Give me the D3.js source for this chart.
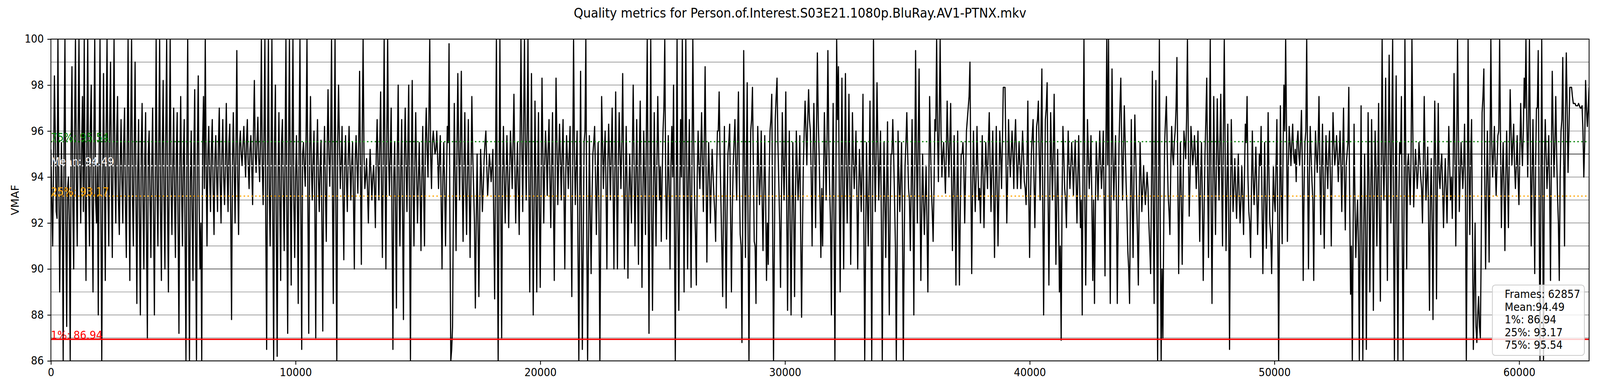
<!DOCTYPE html>
<html>
<head>
<meta charset="utf-8">
<script src="https://cdn.jsdelivr.net/npm/d3@7"></script>
<style>
    html, body { margin: 0; padding: 0; width: 100%; height: 100%; overflow: hidden; background: #ffffff; }
    #chart { width: 100%; height: 100%; }
    #chart svg { display: block; }
    text { font-family: "DejaVu Sans", sans-serif; }
</style>
</head>
<body>
<div id="chart"></div>
<script>
// --- data ---
const chartTitle = "Quality metrics for Person.of.Interest.S03E21.1080p.BluRay.AV1-PTNX.mkv";
const yLabel = "VMAF";
const totalFrames = 62857;
const xTicks = [0, 10000, 20000, 30000, 40000, 50000, 60000];
const yTicks = [86, 88, 90, 92, 94, 96, 98, 100];
const statNames = ["1%", "25%", "Mean", "75%"];
const statValues = [86.94, 93.17, 94.49, 95.54];

// VMAF samples taken at an even stride over the whole file (peaks and dips)
const vmafA = [
    // 0 - 7900
    95.2, 91.0, 98.4, 92.5, 100, 89.0, 95.5, 86.0, 100, 87.5,
    94.0, 86.0, 98.8, 90.0, 100, 91.0, 100, 92.0, 97.5, 100,
    89.5, 100, 91.0, 98.0, 89.0, 100, 92.0, 88.0, 100, 86.0,
    98.5, 89.5, 100, 91.0, 99.0, 90.5, 100, 92.0, 97.5, 91.5,
    96.5, 92.0, 97.0, 90.5, 100, 89.5, 100, 91.0, 99.0, 88.5,
    96.5, 88.0, 97.2, 90.0, 96.8, 87.0, 96.0, 90.5, 97.0, 88.0,
    100, 91.0, 100, 89.5, 98.2, 90.0, 100, 89.0, 100, 91.5,
    97.0, 90.5, 96.8, 87.2, 97.5, 91.0, 96.5, 86.0, 100, 86.0,
    96.0, 89.5, 97.8, 86.0, 98.4, 90.0, 86.0, 97.5, 100, 91.0,
    96.2, 92.5, 96.5, 91.5, 95.8, 92.5, 97.0, 92.0, 96.5, 92.8,
    97.2, 92.5, 96.3, 87.8, 96.8, 92.0, 99.5, 91.5, 96.0, 94.5,
    // 7900 - 15800
    96.2, 94.0, 96.5, 93.5, 95.8, 92.8, 98.2, 94.2, 96.6, 93.8,
    100, 92.8, 100, 86.5, 100, 91.0, 100, 86.0, 98.0, 86.2,
    96.8, 89.5, 96.5, 90.8, 100, 87.2, 100, 89.3, 100, 90.5,
    95.8, 88.5, 100, 86.5, 95.5, 93.6, 100, 87.2, 97.5, 93.0,
    96.0, 87.0, 96.5, 92.5, 95.6, 87.3, 96.2, 91.2, 97.8, 93.6,
    100, 88.5, 100, 86.0, 98.0, 93.5, 96.2, 90.4, 95.8, 92.5,
    96.2, 93.0, 95.5, 90.0, 95.8, 93.3, 98.6, 90.2, 100, 93.5,
    94.8, 92.0, 95.2, 93.0, 94.5, 91.8, 96.5, 93.0, 97.7, 90.5,
    100, 90.0, 100, 93.2, 97.0, 86.5, 95.5, 88.3, 98.0, 91.0,
    96.5, 87.8, 97.0, 92.5, 98.0, 86.0, 98.2, 91.0, 96.8, 92.0,
    95.5, 90.8, 96.2, 91.0, 97.0, 94.0, 100, 93.5, 96.0, 95.0,
    // 15800 - 23600
    96.0, 93.5, 95.8, 90.0, 95.5, 91.0, 96.2, 99.8, 86.0, 87.5,
    97.2, 90.8, 98.5, 93.0, 98.6, 91.2, 96.8, 91.5, 96.5, 90.5,
    97.5, 93.5, 88.3, 95.0, 88.8, 95.2, 92.5, 94.8, 96.0, 93.2,
    95.0, 93.8, 95.2, 88.7, 100, 86.0, 100, 87.0, 96.2, 92.0,
    95.8, 91.8, 96.0, 93.5, 97.6, 92.0, 95.5, 91.5, 100, 92.5,
    100, 93.0, 100, 89.0, 98.5, 88.0, 97.3, 89.0, 96.8, 89.2,
    98.3, 92.0, 96.0, 93.2, 96.5, 91.8, 96.8, 89.5, 98.3, 92.8,
    96.3, 93.0, 96.5, 90.0, 95.8, 93.5, 96.2, 88.8, 100, 92.8,
    96.0, 86.0, 98.6, 86.5, 95.5, 100, 86.0, 95.8, 89.8, 95.0,
    96.2, 91.5, 95.5, 86.0, 97.5, 93.5, 96.0, 90.0, 96.3, 93.0,
    97.0, 90.0, 97.7, 90.0, 96.8, 93.5, 98.5, 90.0, 96.2, 89.6,
    // 23600 - 31500
    95.0, 92.0, 98.0, 91.0, 96.5, 90.2, 97.3, 89.2, 96.0, 91.5,
    100, 87.2, 100, 88.2, 96.8, 91.0, 97.5, 93.0, 91.2, 96.0,
    100, 91.3, 95.8, 90.0, 96.2, 98.0, 86.0, 100, 88.2, 96.5,
    100, 89.0, 100, 90.0, 96.5, 89.2, 100, 93.0, 89.3, 96.0,
    93.5, 96.8, 92.5, 98.8, 90.3, 95.5, 92.0, 95.2, 93.2, 91.2,
    96.0, 97.7, 93.0, 88.8, 96.2, 88.3, 95.0, 96.3, 89.0, 94.5,
    96.5, 93.0, 97.7, 91.5, 86.8, 99.5, 90.5, 98.1, 86.0, 96.0,
    97.9, 91.2, 88.5, 96.2, 92.8, 96.0, 90.8, 95.8, 89.5, 90.2,
    96.0, 97.6, 86.0, 96.5, 98.3, 93.8, 89.2, 96.8, 93.0, 97.7,
    88.2, 96.0, 88.0, 95.5, 88.8, 96.0, 93.0, 95.8, 87.9, 94.5,
    97.3, 94.5, 97.8, 96.0, 91.0, 97.2, 91.8, 99.4, 95.0, 90.5,
    // 31500 - 39400
    91.0, 96.8, 93.0, 99.5, 93.5, 88.0, 97.2, 86.0, 100, 98.8,
    89.0, 98.3, 90.0, 98.5, 92.0, 97.6, 90.2, 96.8, 93.5, 96.0,
    90.0, 95.2, 92.5, 97.6, 86.0, 95.5, 91.0, 97.3, 86.0, 100,
    92.5, 98.1, 93.0, 96.0, 86.0, 95.5, 90.5, 96.4, 88.0, 95.0,
    96.5, 93.0, 86.0, 96.0, 92.5, 95.5, 86.0, 94.5, 96.8, 93.5,
    90.8, 96.5, 88.0, 99.5, 92.0, 98.7, 89.5, 95.0, 91.5, 94.5,
    89.0, 97.5, 93.5, 91.2, 96.5, 100, 93.8, 100, 94.0, 95.5,
    93.3, 97.3, 94.0, 97.2, 90.8, 95.8, 89.3, 96.0, 89.3, 95.0,
    95.5, 92.0, 96.0, 97.0, 99.0, 89.8, 96.0, 92.5, 96.2, 93.0,
    92.0, 95.8, 91.8, 95.5, 93.5, 96.8, 92.5, 96.0, 90.5, 96.2,
    91.0, 96.0, 93.5, 97.9, 97.9, 92.0, 96.5, 94.0, 96.0, 93.5,
    // 39400 - 47300
    96.5, 93.5, 95.5, 93.5, 96.0, 93.8, 92.8, 97.3, 90.5, 95.0,
    96.5, 91.8, 96.2, 97.3, 93.0, 98.7, 88.0, 96.5, 98.1, 89.3,
    96.8, 93.0, 97.6, 90.2, 95.2, 89.0, 86.9, 96.2, 93.5, 91.8,
    96.0, 93.5, 95.5, 93.2, 95.6, 92.0, 95.8, 91.8, 88.0, 100,
    89.3, 96.5, 93.5, 95.8, 89.5, 88.5, 95.5, 93.0, 96.0, 93.5,
    96.0, 89.7, 100, 100, 88.5, 98.7, 93.0, 95.8, 88.5, 95.5,
    98.3, 93.0, 97.1, 93.8, 90.8, 88.5, 96.5, 90.5, 96.7, 93.2,
    89.3, 95.5, 92.5, 94.5, 92.8, 94.2, 92.0, 89.8, 98.6, 88.5,
    98.2, 86.0, 100, 86.0, 87.0, 95.5, 97.5, 93.2, 91.5, 96.2,
    94.5, 96.0, 99.2, 89.8, 95.5, 90.2, 96.0, 94.8, 100, 92.3,
    96.2, 94.5, 95.8, 93.5, 96.0, 91.2, 95.5, 89.5, 95.0, 98.3,
    // 47300 - 55100
    90.5, 100, 88.5, 97.5, 91.5, 97.4, 93.0, 97.6, 91.0, 100,
    90.8, 96.3, 86.5, 96.5, 92.5, 94.8, 92.2, 95.0, 92.0, 94.5,
    91.5, 96.3, 97.5, 92.5, 90.5, 96.0, 92.8, 95.3, 91.5, 95.0,
    96.2, 89.8, 95.5, 90.9, 96.8, 92.0, 89.8, 94.5, 92.5, 96.5,
    86.0, 97.1, 91.1, 98.0, 100, 91.2, 96.2, 94.5, 96.3, 94.6,
    93.8, 96.0, 94.5, 96.9, 89.5, 95.5, 100, 90.0, 96.2, 93.8,
    89.5, 96.0, 94.2, 97.5, 91.5, 96.3, 90.9, 95.8, 93.5, 96.0,
    91.0, 96.8, 94.5, 95.8, 93.8, 96.0, 92.5, 97.0, 91.7, 95.0,
    97.9, 88.9, 86.0, 96.3, 90.5, 93.0, 86.0, 97.1, 86.0, 95.0,
    86.5, 96.8, 89.0, 96.5, 88.2, 96.0, 91.0, 97.2, 88.6, 100,
    93.0, 98.3, 89.5, 99.3, 92.0, 100, 86.0, 98.4, 86.0, 95.5,
    // 55100 - 62857
    97.5, 86.0, 100, 90.0, 95.0, 92.8, 100, 92.7, 95.2, 93.5,
    95.5, 94.0, 92.0, 97.5, 93.0, 95.3, 88.2, 94.8, 87.8, 97.3,
    88.7, 97.2, 93.5, 95.0, 91.8, 94.8, 92.0, 96.2, 93.0, 92.2,
    98.5, 91.0, 100, 92.5, 95.5, 93.5, 96.3, 86.0, 100, 91.5,
    96.5, 86.5, 92.0, 86.8, 88.8, 87.0, 96.8, 98.7, 90.0, 96.0,
    90.3, 100, 94.0, 96.2, 93.2, 95.8, 100, 91.8, 95.5, 90.8,
    96.0, 91.8, 97.8, 94.5, 96.3, 93.5, 95.8, 92.8, 97.2, 94.5,
    98.3, 100, 94.0, 100, 91.0, 96.5, 89.8, 97.0, 99.5, 86.0,
    100, 86.0, 96.5, 93.5, 95.8, 89.5, 98.6, 94.0, 97.5, 93.2,
    89.5, 96.0, 99.2, 91.0, 99.4, 94.2, 97.9, 97.9, 97.2, 97.2,
    97.1, 97.2, 97.0, 97.1, 94.0, 98.2, 96.2, 97.9
];

// VMAF samples half a stride later (the dense middle band between the spikes)
const vmafB = [
    // 0 - 7900
    93.0, 94.5, 95.8, 92.2, 94.0, 92.5, 93.0, 95.5, 92.0, 93.5,
    92.0, 95.5, 92.8, 96.0, 94.0, 95.8, 94.5, 95.2, 92.5, 93.2,
    95.6, 93.5, 96.2, 92.8, 95.8, 93.0, 94.6, 95.0, 92.5, 93.5,
    94.0, 96.0, 93.5, 96.2, 93.8, 95.5, 94.2, 95.8, 93.0, 94.5,
    93.8, 95.5, 92.8, 95.0, 93.6, 96.0, 93.2, 95.2, 93.0, 94.2,
    92.0, 95.2, 93.0, 94.8, 91.5, 95.0, 93.2, 94.5, 92.5, 94.0,
    93.5, 95.5, 92.5, 95.2, 93.0, 95.8, 92.8, 95.0, 93.6, 94.5,
    93.0, 95.0, 92.0, 94.5, 93.5, 94.8, 91.5, 95.0, 92.0, 93.8,
    92.5, 95.0, 91.5, 95.2, 93.0, 92.0, 95.5, 93.5, 94.5, 95.0,
    94.0, 95.2, 93.5, 94.8, 94.0, 95.4, 93.8, 95.0, 94.0, 94.6,
    94.2, 95.5, 92.5, 94.5, 94.5, 95.2, 94.0, 95.3, 95.0, 95.4,
    // 7900 - 15800
    95.0, 95.5, 94.5, 95.2, 94.5, 96.0, 95.0, 95.5, 94.8, 95.5,
    94.5, 95.8, 92.0, 95.0, 93.5, 94.8, 92.5, 95.5, 92.0, 94.0,
    93.0, 95.5, 93.5, 95.0, 92.5, 95.2, 93.5, 95.5, 93.0, 94.0,
    93.2, 95.5, 92.5, 95.0, 94.5, 95.8, 93.0, 95.0, 94.5, 94.8,
    92.5, 94.8, 94.0, 94.5, 92.0, 94.5, 93.5, 95.0, 95.0, 95.5,
    93.5, 95.0, 92.0, 95.5, 95.5, 94.6, 93.2, 94.5, 94.0, 94.8,
    94.5, 94.6, 93.0, 94.8, 94.5, 95.5, 94.0, 95.8, 95.0, 94.0,
    93.5, 94.0, 94.2, 94.0, 93.5, 95.0, 94.5, 95.5, 93.5, 95.0,
    94.5, 95.5, 95.0, 95.0, 92.0, 94.0, 92.5, 95.0, 93.5, 94.5,
    92.5, 94.8, 94.5, 95.2, 92.0, 94.5, 93.5, 94.6, 94.2, 93.8,
    93.5, 94.0, 93.5, 95.5, 95.2, 96.5, 95.0, 95.5, 95.5, 95.2,
    // 15800 - 23600
    94.8, 94.8, 93.0, 94.0, 93.5, 93.8, 95.5, 92.0, 86.5, 93.0,
    94.0, 95.0, 95.2, 95.5, 94.0, 94.5, 93.5, 94.2, 93.5, 94.0,
    95.0, 92.0, 92.0, 92.0, 92.5, 94.0, 93.5, 95.5, 94.5, 94.0,
    94.5, 94.5, 92.0, 94.5, 92.5, 93.5, 93.0, 94.0, 94.0, 94.0,
    94.0, 94.0, 95.0, 95.5, 94.5, 94.0, 93.5, 95.5, 95.5, 96.0,
    95.5, 96.0, 94.0, 94.0, 93.0, 93.0, 93.5, 94.0, 92.5, 94.0,
    95.0, 94.5, 95.0, 95.2, 94.0, 94.5, 93.0, 94.0, 95.5, 94.8,
    94.8, 95.0, 93.5, 94.0, 94.8, 95.0, 92.5, 94.5, 95.0, 94.5,
    91.0, 92.5, 92.0, 91.0, 96.0, 92.0, 91.0, 92.5, 93.0, 95.5,
    94.0, 94.0, 92.0, 92.0, 95.5, 95.0, 93.5, 94.5, 94.8, 95.0,
    94.0, 94.0, 94.0, 94.5, 95.0, 95.5, 94.5, 93.5, 93.5, 93.0,
    // 23600 - 31500
    93.5, 95.0, 94.5, 94.0, 93.5, 95.0, 93.5, 93.0, 94.0, 96.0,
    93.0, 94.0, 92.5, 93.0, 94.0, 94.5, 95.0, 94.5, 94.0, 97.0,
    94.0, 93.5, 93.5, 94.5, 94.0, 92.0, 93.0, 92.0, 93.0, 94.0,
    94.5, 95.0, 94.5, 94.0, 93.0, 94.5, 95.5, 91.5, 94.0, 94.5,
    95.0, 94.5, 95.5, 94.5, 93.5, 94.0, 93.8, 94.2, 92.5, 94.0,
    96.0, 95.0, 91.0, 93.0, 92.0, 92.5, 95.5, 92.5, 92.5, 95.5,
    94.5, 95.5, 94.0, 91.0, 93.0, 94.5, 94.5, 91.5, 92.0, 96.5,
    94.5, 91.0, 93.0, 94.5, 94.0, 93.0, 93.5, 93.0, 92.0, 94.0,
    96.5, 92.0, 91.0, 97.5, 95.5, 92.0, 93.0, 95.0, 95.0, 93.0,
    92.5, 92.0, 92.0, 92.5, 93.0, 94.5, 94.0, 91.5, 91.5, 96.0,
    96.0, 96.5, 96.5, 94.0, 95.0, 95.0, 96.0, 96.5, 93.0, 93.5,
    // 31500 - 39400
    94.0, 95.0, 95.5, 95.5, 92.0, 93.5, 92.0, 93.0, 96.5, 93.5,
    94.0, 93.5, 94.5, 94.5, 94.5, 94.0, 93.5, 94.8, 94.5, 93.5,
    93.0, 94.0, 94.5, 92.0, 91.0, 93.0, 94.0, 92.0, 93.0, 95.0,
    95.0, 95.5, 94.5, 92.0, 92.0, 93.0, 93.5, 92.0, 92.5, 95.0,
    95.0, 91.0, 91.0, 94.0, 94.0, 92.0, 91.0, 95.5, 95.0, 93.0,
    93.5, 93.0, 94.0, 95.0, 95.5, 93.5, 92.5, 93.0, 93.0, 92.0,
    93.0, 95.5, 92.5, 93.5, 96.0, 96.0, 96.5, 96.0, 95.0, 94.5,
    95.0, 95.5, 95.5, 94.0, 93.5, 93.0, 93.0, 92.5, 92.5, 95.0,
    94.5, 94.0, 96.5, 97.5, 94.0, 93.5, 94.0, 94.0, 94.5, 93.5,
    94.0, 94.0, 94.0, 94.5, 95.5, 94.5, 94.5, 93.5, 93.5, 93.5,
    93.5, 95.0, 95.5, 97.9, 95.0, 94.0, 95.0, 95.0, 95.0, 95.5,
    // 39400 - 47300
    95.0, 94.5, 94.5, 94.8, 95.0, 93.5, 94.5, 93.5, 93.0, 95.8,
    94.0, 94.0, 96.5, 95.0, 96.0, 93.0, 93.0, 97.0, 93.5, 93.0,
    95.0, 95.0, 94.0, 93.0, 92.5, 91.0, 93.0, 95.0, 93.0, 94.0,
    94.5, 94.5, 94.5, 94.5, 94.0, 94.0, 93.8, 93.0, 95.0, 93.0,
    93.0, 95.0, 94.5, 93.0, 93.0, 92.5, 94.5, 94.5, 94.5, 94.5,
    93.0, 95.0, 94.5, 93.0, 94.0, 95.0, 94.5, 93.0, 92.0, 97.0,
    95.5, 95.0, 95.5, 92.5, 90.0, 93.0, 93.0, 94.0, 95.0, 91.5,
    93.0, 94.0, 93.5, 93.5, 93.5, 93.5, 91.0, 93.5, 93.0, 95.0,
    92.0, 94.0, 92.0, 90.0, 92.0, 96.5, 95.0, 92.5, 94.5, 95.0,
    95.5, 97.0, 94.0, 93.0, 93.0, 93.5, 95.5, 96.5, 95.5, 94.0,
    95.5, 95.0, 95.0, 94.5, 93.5, 94.0, 93.0, 92.5, 96.5, 94.0,
    // 47300 - 55100
    95.0, 93.0, 93.5, 94.0, 94.5, 95.0, 95.5, 94.0, 96.0, 95.0,
    93.5, 92.5, 92.5, 94.5, 93.5, 93.5, 93.5, 93.2, 93.0, 93.0,
    94.0, 95.5, 94.0, 92.0, 93.5, 94.0, 94.0, 93.5, 93.0, 94.5,
    93.0, 92.5, 93.0, 93.5, 94.0, 91.5, 92.0, 93.0, 94.5, 92.0,
    92.0, 93.5, 95.0, 96.0, 96.0, 94.5, 95.5, 95.5, 95.0, 95.2,
    95.5, 95.0, 95.5, 94.5, 93.5, 96.0, 94.5, 94.0, 95.0, 93.0,
    94.0, 95.0, 95.5, 94.5, 94.5, 93.5, 94.0, 94.5, 95.0, 94.0,
    94.5, 95.5, 95.0, 95.0, 94.8, 94.5, 95.0, 94.0, 94.5, 95.5,
    93.0, 91.0, 92.0, 93.0, 92.0, 91.0, 92.0, 91.0, 91.5, 92.0,
    92.0, 94.0, 93.0, 93.5, 93.0, 94.5, 94.0, 92.0, 94.5, 95.0,
    95.0, 93.5, 95.0, 95.5, 96.0, 92.0, 93.5, 91.0, 93.0, 95.0,
    // 55100 - 62857
    91.0, 93.0, 94.5, 94.5, 94.0, 95.0, 96.0, 94.0, 94.5, 94.2,
    94.8, 93.5, 94.5, 94.8, 94.0, 92.0, 93.0, 92.0, 94.0, 94.5,
    94.0, 94.0, 94.5, 93.5, 93.5, 93.5, 94.0, 94.5, 94.0, 94.5,
    95.0, 95.0, 96.0, 94.0, 94.5, 94.5, 93.5, 92.0, 94.5, 95.0,
    92.0, 89.0, 87.5, 88.0, 87.5, 91.0, 97.5, 94.0, 93.5, 93.5,
    95.0, 95.5, 95.0, 94.5, 94.5, 96.0, 95.5, 94.0, 93.5, 94.0,
    94.0, 95.0, 96.0, 95.5, 94.5, 94.5, 94.0, 95.0, 95.5, 96.0,
    97.0, 96.5, 96.5, 95.5, 94.0, 93.5, 94.5, 97.0, 93.0, 93.0,
    93.0, 94.5, 95.0, 94.5, 93.5, 95.0, 96.0, 95.5, 95.0, 92.0,
    94.0, 96.5, 95.0, 96.5, 97.0, 96.0, 97.9, 97.5, 97.2, 97.1,
    97.1, 97.1, 97.0, 96.0, 95.5, 97.0, 97.0
];


class VmafChart {
    constructor(parentElement, peaks, middles) {
        this.parentElement = parentElement;
        this.peaks = peaks;
        this.middles = middles;
        this.initVis();
    }

    initVis() {
        let vis = this;
        vis.fullWidth = 4400;
        vis.fullHeight = 1000;
        vis.margin = {top: 100, right: 30, bottom: 77, left: 140};
        vis.width = vis.fullWidth - vis.margin.left - vis.margin.right;
        vis.height = vis.fullHeight - vis.margin.top - vis.margin.bottom;

        // viewBox so the whole figure fits whatever the window really is
        vis.root = d3.select("#" + vis.parentElement)
            .append("svg")
            .attr("viewBox", "0 0 " + vis.fullWidth + " " + vis.fullHeight)
            .attr("preserveAspectRatio", "none")
            .style("width", "100vw")
            .style("height", "100vh");

        vis.svg = vis.root.append("g")
            .attr("transform", "translate(" + vis.margin.left + "," + vis.margin.top + ")");

        vis.svg.append("clipPath")
            .attr("id", "plot-clip")
            .append("rect")
            .attr("width", vis.width)
            .attr("height", vis.height);

        vis.x = d3.scaleLinear()
            .domain([0, totalFrames])
            .range([0, vis.width]);

        vis.y = d3.scaleLinear()
            .domain([d3.min(yTicks), d3.max(yTicks)])
            .range([vis.height, 0]);

        vis.xAxis = d3.axisBottom(vis.x)
            .tickValues(xTicks)
            .tickFormat(d3.format("d"))
            .tickSize(9.7)
            .tickPadding(9.7);

        vis.yAxis = d3.axisLeft(vis.y)
            .tickValues(yTicks)
            .tickFormat(d3.format("d"))
            .tickSize(9.7)
            .tickPadding(9.7);

        vis.line = d3.line()
            .x(d => vis.x(d.frame))
            .y(d => vis.y(d.value));

        vis.wrangleData();
    }

    wrangleData() {
        let vis = this;
        // both sample sets share the same stride, the second one offset by half of it
        let stride = totalFrames / (vis.peaks.length - 1);
        vis.displayData = vis.peaks.map((v, i) => ({frame: i * stride, value: v}))
            .concat(vis.middles.map((v, i) => ({frame: (i + 0.5) * stride, value: v})))
            .sort((a, b) => a.frame - b.frame);
        vis.stats = statNames.map((name, i) => ({name: name, value: statValues[i]}));
        vis.updateVis();
    }

    updateVis() {
        let vis = this;

        // title
        vis.root.append("text")
            .attr("x", vis.fullWidth / 2)
            .attr("y", 45)
            .attr("text-anchor", "middle")
            .style("font-size", "33.3px")
            .text(chartTitle);

        // horizontal grid, one line per unit, every fifth drawn dark
        let gridValues = vis.y.ticks(14);
        vis.svg.selectAll(".grid")
            .data(gridValues.filter(d => d > vis.y.domain()[0] && d < vis.y.domain()[1]))
            .enter()
            .append("line")
            .attr("class", "grid")
            .attr("x1", 0)
            .attr("x2", vis.width)
            .attr("y1", d => vis.y(d))
            .attr("y2", d => vis.y(d))
            .attr("stroke", d => d % 5 === 0 ? "#000000" : "#808080")
            .attr("stroke-width", 1.4);

        // VMAF trace
        vis.svg.append("path")
            .datum(vis.displayData)
            .attr("class", "vmaf-line")
            .attr("clip-path", "url(#plot-clip)")
            .attr("fill", "none")
            .attr("stroke", "#000000")
            .attr("stroke-width", 3.2)
            .attr("stroke-linejoin", "round")
            .attr("d", vis.line);

        // stat lines
        let statColor = {"1%": "#ff0000", "25%": "#ffa500", "Mean": "#ffffff", "75%": "#008000"};

        vis.svg.selectAll(".stat-line")
            .data(vis.stats)
            .enter()
            .append("line")
            .attr("class", "stat-line")
            .attr("x1", 0)
            .attr("x2", vis.width)
            .attr("y1", d => vis.y(d.value))
            .attr("y2", d => vis.y(d.value))
            .attr("stroke", d => statColor[d.name])
            .attr("stroke-width", d => d.name === "1%" ? 3.5 : 3)
            .attr("stroke-dasharray", d => d.name === "1%" ? null : "4,6.6");

        vis.svg.selectAll(".stat-label")
            .data(vis.stats)
            .enter()
            .append("text")
            .attr("class", "stat-label")
            .attr("x", vis.x(0))
            .attr("y", d => vis.y(d.value) - 1)
            .style("font-size", "27.8px")
            .style("fill", d => statColor[d.name])
            .text(d => d.name + ": " + d.value.toFixed(2));

        // axes
        let xg = vis.svg.append("g")
            .attr("class", "x-axis")
            .attr("transform", "translate(0," + vis.height + ")")
            .call(vis.xAxis);
        let yg = vis.svg.append("g")
            .attr("class", "y-axis")
            .call(vis.yAxis);

        [xg, yg].forEach(g => {
            g.attr("font-family", null).attr("font-size", null);
            g.selectAll("text").style("font-size", "27.8px").style("fill", "#000000");
            g.selectAll("line").attr("stroke-width", 2.2);
            g.select(".domain").remove();
        });

        // frame around the plot
        vis.svg.append("rect")
            .attr("width", vis.width)
            .attr("height", vis.height)
            .attr("fill", "none")
            .attr("stroke", "#000000")
            .attr("stroke-width", 2.2);

        vis.svg.append("text")
            .attr("transform", "rotate(-90)")
            .attr("x", -vis.height / 2)
            .attr("y", 42 - vis.margin.left)
            .attr("dy", "0.35em")
            .attr("text-anchor", "middle")
            .style("font-size", "27.8px")
            .text(yLabel);

        // stats box, bottom right
        let statByName = {};
        vis.stats.forEach(d => statByName[d.name] = d.value.toFixed(2));
        let legendLines = [
            "Frames: " + totalFrames,
            "Mean:" + statByName["Mean"],
            "1%: " + statByName["1%"],
            "25%: " + statByName["25%"],
            "75%: " + statByName["75%"]
        ];

        let legend = vis.svg.append("g")
            .attr("class", "legend")
            .attr("transform", "translate(" + (vis.width - 266) + "," + (vis.height - 194) + ")");

        legend.append("rect")
            .attr("width", 253)
            .attr("height", 180)
            .attr("rx", 8)
            .attr("fill", "#ffffff")
            .attr("fill-opacity", 0.8)
            .attr("stroke", "#cccccc")
            .attr("stroke-width", 2.2);

        legend.selectAll(".legend-text")
            .data(legendLines)
            .enter()
            .append("text")
            .attr("class", "legend-text")
            .attr("x", 34)
            .attr("y", (d, i) => 33 + i * 32.6)
            .style("font-size", "27.8px")
            .text(d => d);
    }
}

new VmafChart("chart", vmafA, vmafB);
</script>
</body>
</html>
